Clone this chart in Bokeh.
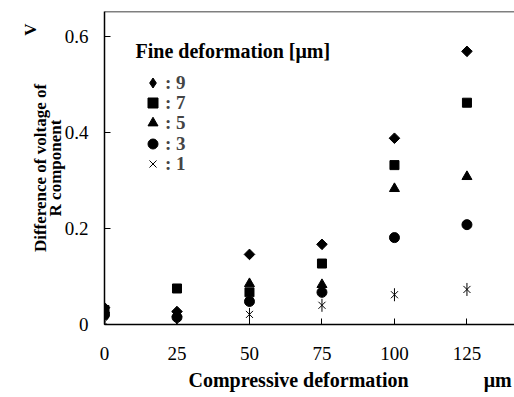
import math
from bokeh.plotting import figure
from bokeh.models import (Range1d, FixedTicker, Legend, LegendItem, Label, Span,
                          ColumnDataSource, Title)
from bokeh.embed import file_html
from bokeh.resources import INLINE

# ---- data ----
compressive = [0, 25, 50, 75, 100, 125]
fine_9 = [0.035, 0.027, 0.146, 0.167, 0.388, 0.569]
fine_7 = [0.030, 0.075, 0.067, 0.127, 0.332, 0.462]
fine_5 = [0.030, 0.022, 0.085, 0.083, 0.283, 0.308]
fine_3 = [0.020, 0.015, 0.048, 0.067, 0.181, 0.208]
fine_1 = [0.005, 0.002, 0.021, 0.040, 0.062, 0.073]

x_ticks = [0, 25, 50, 75, 100, 125]
y_ticks = [0, 0.2, 0.4, 0.6]
y_tick_labels = ["0", "0.2", "0.4", "0.6"]
legend_labels = [": 9", ": 7", ": 5", ": 3", ": 1"]
legend_title = "Fine deformation [μm]"
x_label = "Compressive deformation"
x_unit = "μm"
y_label = "Difference of voltage of\nR component"
y_unit = "V"

FONT = "Liberation Serif"

p = figure(width=514, height=397, output_backend="svg", toolbar_location=None,
           x_range=Range1d(0, 141.4), y_range=Range1d(0, 0.652))
p.min_border_left = 104
p.min_border_right = 0
p.min_border_top = 11
p.min_border_bottom = 73
p.outline_line_color = None
p.xgrid.grid_line_color = None
p.ygrid.grid_line_color = None
p.background_fill_color = "white"
p.border_fill_color = "white"

for ax in (p.xaxis[0], p.yaxis[0]):
    ax.axis_line_color = "black"
    ax.axis_line_width = 1.5
    ax.major_tick_line_color = "black"
    ax.major_tick_in = 6
    ax.major_tick_out = 0
    ax.minor_tick_line_color = None
    ax.major_label_text_font = FONT
    ax.major_label_text_font_size = "19px"
    ax.major_label_text_color = "black"

p.xaxis[0].ticker = FixedTicker(ticks=x_ticks)
p.xaxis[0].major_label_standoff = 22
p.yaxis[0].ticker = FixedTicker(ticks=y_ticks)
p.yaxis[0].major_label_overrides = {t: l for t, l in zip(y_ticks, y_tick_labels)}
p.yaxis[0].major_label_standoff = 16
p.yaxis[0].axis_label = y_label
p.yaxis[0].axis_label_standoff = -3
p.yaxis[0].axis_label_text_font = FONT
p.yaxis[0].axis_label_text_font_style = "bold"
p.yaxis[0].axis_label_text_font_size = "17px"
p.yaxis[0].axis_label_text_line_height = 0.8
p.yaxis[0].axis_label_text_color = "black"

# top frame line
p.add_layout(Span(location=p.y_range.end, dimension="width", line_color="black", line_width=1.5))

src = ColumnDataSource(dict(x=compressive, f9=fine_9, f7=fine_7, f5=fine_5, f3=fine_3, f1=fine_1))

r9 = p.scatter("x", "f9", source=src, marker="square", angle=math.pi / 4, size=7.5,
               fill_color="black", line_color="black")
r7 = p.scatter("x", "f7", source=src, marker="square", size=9,
               fill_color="black", line_color="black")
r5 = p.scatter("x", "f5", source=src, marker="triangle", size=10,
               fill_color="black", line_color="black")
r3 = p.scatter("x", "f3", source=src, marker="circle", size=10,
               fill_color="black", line_color="black")
r1a = p.scatter("x", "f1", source=src, marker="x", size=10,
                line_color="black", line_width=1)
r1b = p.scatter("x", "f1", source=src, marker="dash", angle=math.pi / 2, size=13,
                line_color="black", line_width=1)
# legend-only glyph for the diamond series (a NaN point: nothing is plotted)
r9_leg = p.scatter(x=[float("nan")], y=[float("nan")], marker="diamond",
                   fill_color="black", line_color="black")

# one small legend per row, stacked 20 px apart
row_renderers = [[r9_leg], [r7], [r5], [r3], [r1a]]
row_bottoms = [229, 209, 189, 168, 148]   # screen px from frame bottom
for lbl, rends, vy in zip(legend_labels, row_renderers, row_bottoms):
    lg = Legend(items=[LegendItem(label=lbl, renderers=rends)], location=(36, vy))
    lg.padding = 0
    lg.margin = 0
    lg.spacing = 0
    lg.border_line_color = None
    lg.background_fill_alpha = 0
    lg.glyph_width = 25
    lg.glyph_height = 25
    lg.label_height = 25
    lg.label_standoff = -5
    lg.label_text_font = FONT
    lg.label_text_font_style = "bold"
    lg.label_text_font_size = "19px"
    lg.label_text_baseline = "middle"
    p.add_layout(lg)

# legend title (frame-relative screen coordinates)
p.add_layout(Label(x=31, y=274, x_units="screen", y_units="screen", text=legend_title,
                   text_font=FONT, text_font_style="bold", text_font_size="20px",
                   text_color="black", text_baseline="middle", text_align="left"))

# x axis label with unit
gap = "\u2003\u2003\u2003\u2002 "
p.add_layout(Title(text=x_label + gap + x_unit, align="left", offset=84, standoff=8,
                   vertical_align="bottom",
                   text_font=FONT, text_font_style="bold", text_font_size="20px",
                   text_color="black"), "below")
# y unit
p.add_layout(Title(text=y_unit, align="right", offset=12, standoff=-25,
                   text_font=FONT, text_font_style="bold", text_font_size="17px",
                   text_color="black"), "left")

open("out.html", "w").write(file_html(p, INLINE))
